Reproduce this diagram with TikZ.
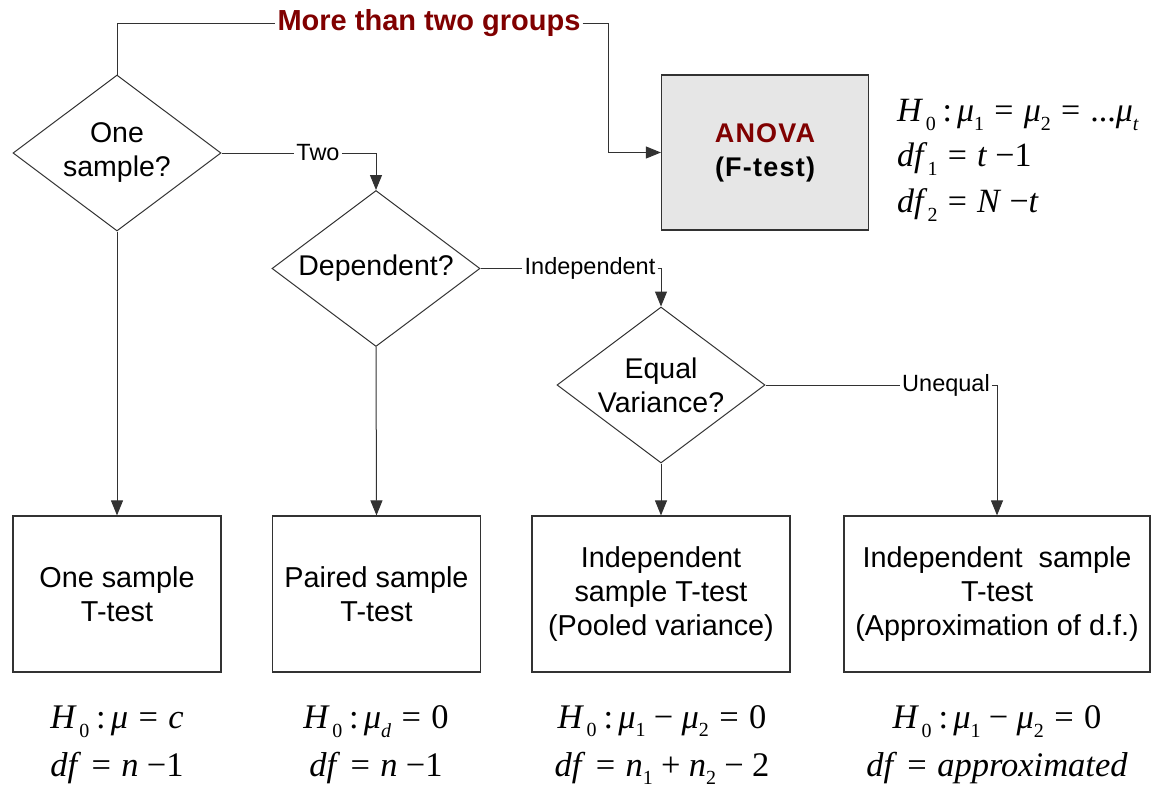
\documentclass[tikz,border=0pt]{standalone}
\usepackage{fontspec}
\setmainfont{Liberation Sans}
\newfontfamily\tms{Liberation Serif}
\usetikzlibrary{shapes.geometric,arrows.meta}
\definecolor{mdred}{RGB}{128,0,0}
\definecolor{boxgray}{RGB}{230,230,230}
\definecolor{linegray}{RGB}{50,50,50}
\newcommand{\iv}[1]{\textit{#1}}
\newcommand{\sbs}[1]{\raisebox{-0.26em}{\fontsize{20}{20}\selectfont #1}}
\newcommand{\eqs}{\hspace{0.3em}=\hspace{0.3em}}
\newcommand{\mns}{\hspace{0.24em}−\hspace{0.24em}}
\newcommand{\pls}{\hspace{0.24em}+\hspace{0.24em}}
\newcommand{\hz}{\iv{H}\kern2.5pt\sbs{0}\hspace{0.2em}:\hspace{0.15em}}
\tikzset{
  dmd/.style={diamond, draw=linegray, line width=1pt, minimum width=208pt, minimum height=156pt, inner sep=0pt},
  dtext/.style={font=\fontsize{28.5}{34}\selectfont, align=center},
  testbox/.style={rectangle, draw=linegray, line width=1.2pt, minimum height=156pt, align=center, font=\fontsize{28.8}{34}\selectfont},
  elabel/.style={font=\fontsize{23.5}{27}\selectfont, inner sep=2pt},
  conn/.style={draw=linegray, line width=1pt},
  arr/.style={conn, -{Triangle[length=15pt,width=12pt]}},
  eqn/.style={font=\tms\fontsize{34.5}{48}\selectfont, align=center, inner sep=0pt},
}
\begin{document}
\begin{tikzpicture}[x=1pt,y=-1pt]
\useasboundingbox (0,0) rectangle (1151,788);
% decisions
\node[dmd, label={[dtext]center:One\\sample?}] (d1) at (117,153) {};
\node[dmd, label={[dtext]center:Dependent?}] (d2) at (376,268.5) {};
\node[dmd, label={[dtext]center:Equal\\Variance?}] (d3) at (661,385) {};
% ANOVA
\node[rectangle, draw=linegray, line width=1.2pt, fill=boxgray, minimum width=207pt, minimum height=155pt, align=center, font=\bfseries\fontsize{27}{34}\selectfont\addfontfeature{LetterSpace=4.5}] (anova) at (765,152.5) {\textcolor{mdred}{ANOVA}\\(F-test)};
% tests
\node[testbox, minimum width=208pt] (b1) at (117,594) {One sample\\T-test};
\node[testbox, minimum width=208pt] (b2) at (376.5,594) {Paired sample\\T-test};
\node[testbox, minimum width=258pt] (b3) at (661,594) {Independent\\sample T-test\\(Pooled variance)};
\node[testbox, minimum width=306pt] (b4) at (997,594) {Independent\ \ sample\\T-test\\(Approximation of d.f.)};
% edge labels
\node[font=\bfseries\fontsize{29}{32}\selectfont, text=mdred, inner sep=2pt] (mtg) at (429,23) {More than two groups};
\coordinate (turn) at (608,23);
\node[elabel] (two) at (318,153) {Two};
\node[elabel] (ind) at (590,268.5) {Independent};
\node[elabel] (uneq) at (946,385) {Unequal};
% connectors
\draw[conn] (d1.north) |- (mtg.west);
\draw[arr] (mtg.east) -- (turn) |- (anova.west);
\draw[conn] (d1.east) -- (two.west);
\draw[arr] (two.east) -| (d2.north);
\draw[conn] (d2.east) -- (ind.west);
\draw[arr] (ind.east) -| (d3.north);
\draw[conn] (d3.east) -- (uneq.west);
\draw[arr] (uneq.east) -| (b4.north);
\draw[arr] (d1.south) -- (b1.north);
\draw[arr] (d2.south) -- (b2.north);
\draw[arr] (d3.south) -- (b3.north);
% hypotheses
\node[eqn, anchor=west, align=left, font=\tms\fontsize{34}{45.5}\selectfont] (eqa) at (897,160) {\hz\iv{μ}\sbs{1}\eqs\iv{μ}\sbs{2}\eqs...\iv{μ}\sbs{\iv{t}}\\
\iv{df}\sbs{1}\eqs\iv{t}\hspace{0.24em}−1\\
\iv{df}\sbs{2}\eqs\iv{N}\hspace{0.24em}−\iv{t}};
\node[eqn] (e1) at (117,745) {\hz\iv{μ}\eqs\iv{c}\\ \iv{df}\eqs\iv{n}\hspace{0.24em}−1};
\node[eqn] (e2) at (376,745) {\hz\iv{μ}\sbs{\iv{d}}\eqs 0\\ \iv{df}\eqs\iv{n}\hspace{0.24em}−1};
\node[eqn] (e3) at (662,745) {\hz\iv{μ}\sbs{1}\mns\iv{μ}\sbs{2}\eqs 0\\ \iv{df}\eqs\iv{n}\sbs{1}\pls\iv{n}\sbs{2}\mns 2};
\node[eqn] (e4) at (997,745) {\hz\iv{μ}\sbs{1}\mns\iv{μ}\sbs{2}\eqs 0\\ \iv{df}\eqs\iv{approximated}};
\end{tikzpicture}
\end{document}
